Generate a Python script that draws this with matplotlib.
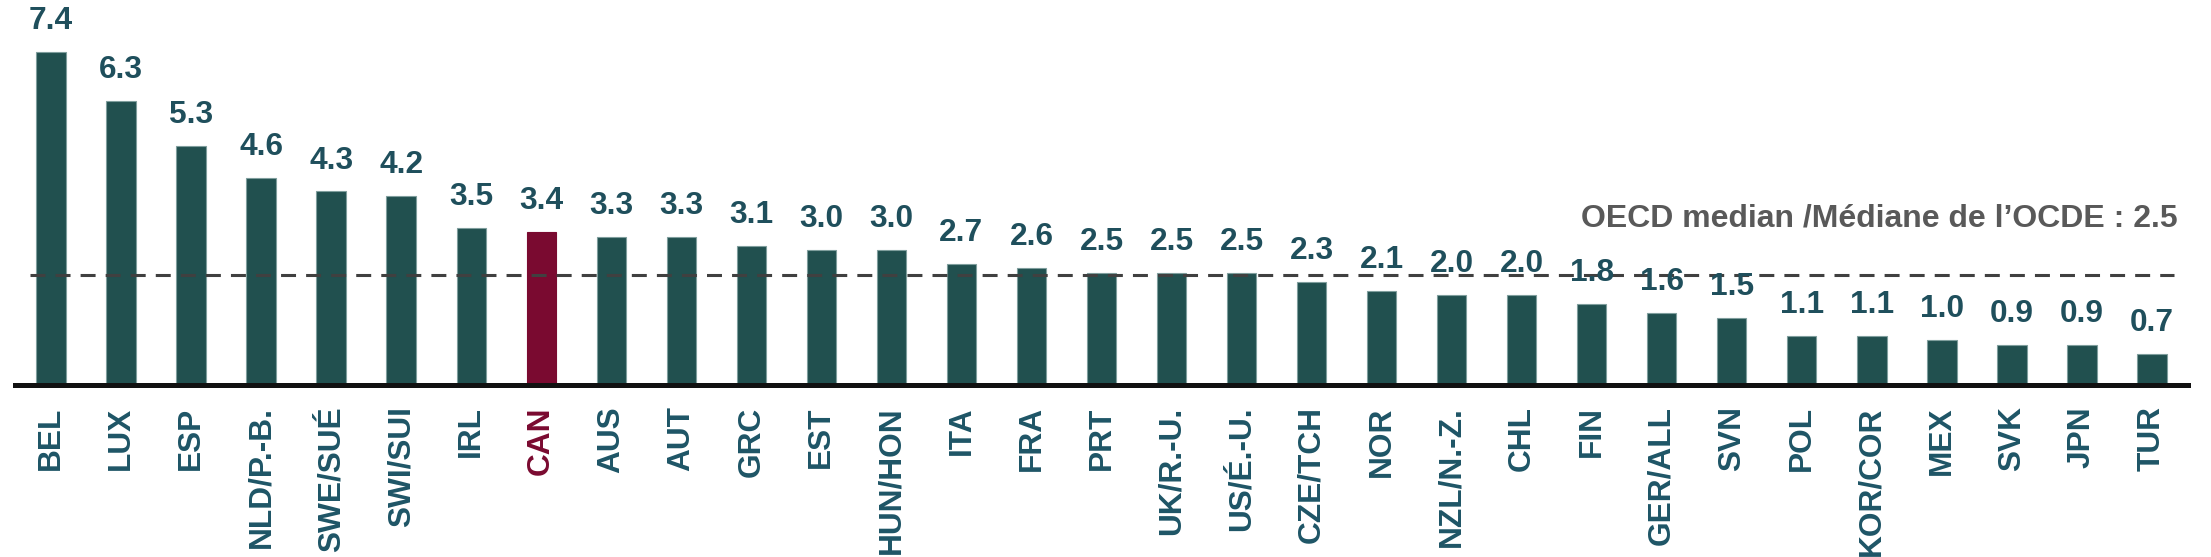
import matplotlib
matplotlib.use("Agg")
import matplotlib.pyplot as plt
from matplotlib.transforms import offset_copy

countries = ["BEL", "LUX", "ESP", "NLD/P.-B.", "SWE/SUÉ", "SWI/SUI", "IRL", "CAN",
             "AUS", "AUT", "GRC", "EST", "HUN/HON", "ITA", "FRA", "PRT", "UK/R.-U.",
             "US/É.-U.", "CZE/TCH", "NOR", "NZL/N.-Z.", "CHL", "FIN", "GER/ALL", "SVN",
             "POL", "KOR/COR", "MEX", "SVK", "JPN", "TUR"]
values = [7.4, 6.3, 5.3, 4.6, 4.3, 4.2, 3.5, 3.4, 3.3, 3.3, 3.1, 3.0, 3.0, 2.7, 2.6,
          2.5, 2.5, 2.5, 2.3, 2.1, 2.0, 2.0, 1.8, 1.6, 1.5, 1.1, 1.1, 1.0, 0.9, 0.9, 0.7]
highlight = "CAN"
median_value = 2.45
median_label = "OECD median /Médiane de l\u2019OCDE : 2.5"

TEAL = "#21504f"
MAROON = "#7a0a30"
LABEL_TEAL = "#1f4f5c"
TICK_TEAL = "#1e5566"

plt.rcParams["font.family"] = ["Liberation Sans", "DejaVu Sans"]

fig = plt.figure(figsize=(22.11, 5.57), dpi=100)
ax = fig.add_axes([0.0068, 0.3079, 0.9828, 0.648])

x = list(range(len(countries)))
colors = [MAROON if c == highlight else TEAL for c in countries]
edges = [MAROON if c == highlight else "#7f9e9d" for c in countries]
ax.bar(x, values, width=0.42, color=colors, edgecolor=edges, linewidth=0.8, zorder=2)

ax.plot([-0.30, 30.32], [median_value, median_value], color="#404040", lw=2.2,
        dashes=(4.9, 3.3), zorder=3)
ax.text(30.37, 3.52, median_label, ha="right", va="baseline", fontsize=23,
        fontweight="bold", color="#595959", zorder=4)

lab_tr = offset_copy(ax.transData, fig=fig, x=0, y=16.5, units="points")
for xi, v in zip(x, values):
    ax.text(xi, v, f"{v:.1f}", transform=lab_tr, ha="center", va="baseline",
            fontsize=22.8, fontweight="bold", color=LABEL_TEAL, zorder=4)

ax.set_xlim(-0.514, 30.515)
ax.set_ylim(0, 8)
ax.set_xticks(x)
ax.set_xticklabels(countries, rotation=90, fontsize=22.8, fontweight="bold")
for lbl, c in zip(ax.get_xticklabels(), countries):
    lbl.set_color(MAROON if c == highlight else TICK_TEAL)
ax.tick_params(axis="x", length=0, pad=15)
ax.set_yticks([])
for s in ["top", "right", "left"]:
    ax.spines[s].set_visible(False)
ax.spines["bottom"].set_linewidth(3.6)
ax.spines["bottom"].set_color("#111111")
ax.spines["bottom"].set_zorder(5)

fig.savefig("out.png", dpi=100)
